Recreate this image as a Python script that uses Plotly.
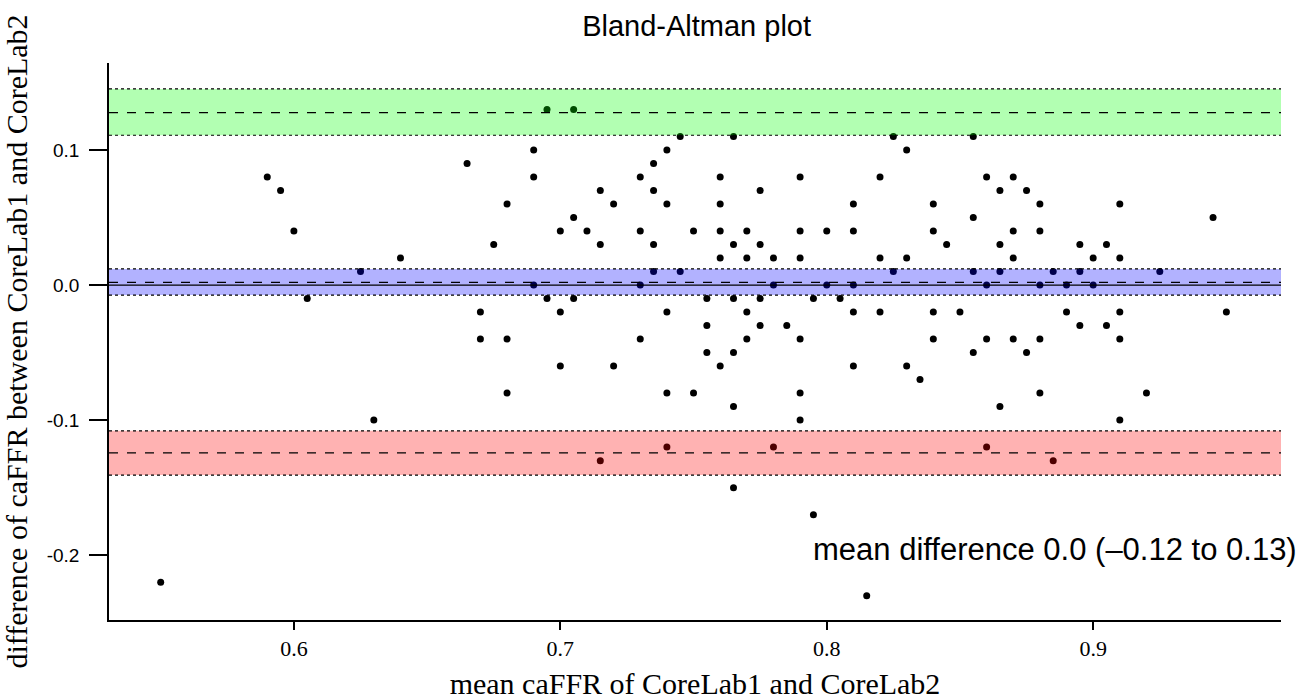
import plotly.graph_objects as go

# mean of the two core labs (x) and difference (y)
mean_caffr = [
    0.55, 0.59, 0.595, 0.6, 0.605, 0.625, 0.63, 0.64, 0.665, 0.67, 0.67, 0.675, 0.68, 0.68, 0.68,
    0.69, 0.69, 0.69, 0.695, 0.695, 0.7, 0.7, 0.7, 0.705, 0.705, 0.705, 0.71, 0.715, 0.715, 0.715, 0.72, 0.72,
    0.73, 0.73, 0.73, 0.73, 0.735, 0.735, 0.735, 0.735, 0.74, 0.74, 0.74, 0.74, 0.74, 0.745, 0.745, 0.75, 0.75,
    0.755, 0.755, 0.755,
    0.76, 0.76, 0.76, 0.76, 0.76, 0.765, 0.765, 0.765, 0.765, 0.765, 0.765, 0.77, 0.77, 0.77, 0.77,
    0.775, 0.775, 0.775, 0.775, 0.78, 0.78, 0.78, 0.785,
    0.79, 0.79, 0.79, 0.79, 0.79, 0.79, 0.795, 0.795, 0.8, 0.8, 0.805,
    0.81, 0.81, 0.81, 0.81, 0.81, 0.815, 0.82, 0.82, 0.82, 0.825, 0.825, 0.83, 0.83, 0.83, 0.835,
    0.84, 0.84, 0.84, 0.84, 0.845, 0.85, 0.855, 0.855, 0.855, 0.855, 0.86, 0.86, 0.86, 0.86,
    0.865, 0.865, 0.865, 0.865, 0.87, 0.87, 0.87, 0.87, 0.875, 0.875, 0.88, 0.88, 0.88, 0.88, 0.88,
    0.885, 0.885, 0.89, 0.89, 0.895, 0.895, 0.895, 0.9, 0.9, 0.905, 0.905,
    0.91, 0.91, 0.91, 0.91, 0.91, 0.92, 0.925, 0.945, 0.95,
]
diff_caffr = [
    -0.22, 0.08, 0.07, 0.04, -0.01, 0.01, -0.1, 0.02, 0.09, -0.02, -0.04, 0.03, 0.06, -0.04, -0.08,
    0.1, 0.08, 0.0, 0.13, -0.01, 0.04, -0.02, -0.06, 0.13, 0.05, -0.01, 0.04, 0.07, 0.03, -0.13, 0.06, -0.06,
    0.08, 0.04, 0.0, -0.04, 0.09, 0.07, 0.03, 0.01, 0.1, 0.06, -0.02, -0.08, -0.12, 0.11, 0.01, 0.04, -0.08,
    -0.01, -0.03, -0.05,
    0.08, 0.06, 0.04, 0.02, -0.06, 0.11, 0.03, -0.01, -0.05, -0.09, -0.15, 0.04, 0.02, -0.02, -0.04,
    0.07, 0.03, -0.01, -0.03, 0.02, 0.0, -0.12, -0.03,
    0.08, 0.04, 0.02, -0.04, -0.08, -0.1, -0.01, -0.17, 0.04, 0.0, -0.01,
    0.06, 0.04, 0.0, -0.02, -0.06, -0.23, 0.08, 0.02, -0.02, 0.11, 0.01, 0.1, 0.02, -0.06, -0.07,
    0.06, 0.04, -0.02, -0.04, 0.03, -0.02, 0.11, 0.05, 0.01, -0.05, 0.08, 0.0, -0.04, -0.12,
    0.07, 0.03, 0.01, -0.09, 0.08, 0.04, 0.02, -0.04, 0.07, -0.05, 0.06, 0.04, 0.0, -0.04, -0.08,
    0.01, -0.13, 0.0, -0.02, 0.03, 0.01, -0.03, 0.02, 0.0, 0.03, -0.03,
    0.06, 0.02, -0.02, -0.04, -0.1, -0.08, 0.01, 0.05, -0.02,
]

# Limits of agreement and their confidence bands: (lower CI, estimate, upper CI)
upper_loa = [0.1109, 0.1276, 0.1452]
mean_bias = [-0.0074, 0.0020, 0.0119]
lower_loa = [-0.1407, -0.1242, -0.1079]
band_colors = ["rgba(0,255,0,0.3)", "rgba(0,0,255,0.3)", "rgba(255,0,0,0.3)"]

x_range = [0.5306, 0.9705]
y_range = [-0.248, 0.1644]
x_ticks = [0.6, 0.7, 0.8, 0.9]
y_ticks = [0.1, 0.0, -0.1, -0.2]
y_ticklabels = ["0.1", "0.0", "-0.1", "-0.2"]

fig = go.Figure()
fig.add_trace(go.Scatter(
    x=mean_caffr, y=diff_caffr, mode="markers",
    marker=dict(color="black", size=7), showlegend=False, cliponaxis=False,
))

shapes = []
for band, col in zip([upper_loa, mean_bias, lower_loa], band_colors):
    lo, est, hi = band
    shapes.append(dict(type="rect", xref="paper", yref="y", x0=0, x1=1, y0=lo, y1=hi,
                       fillcolor=col, line=dict(width=0), layer="above"))
    for v in (lo, hi):
        shapes.append(dict(type="line", xref="paper", yref="y", x0=0, x1=1, y0=v, y1=v,
                           line=dict(color="black", width=1.2, dash="dot"), layer="above"))
    shapes.append(dict(type="line", xref="paper", yref="y", x0=0, x1=1, y0=est, y1=est,
                       line=dict(color="black", width=1.2, dash="dash"), layer="above"))
shapes.append(dict(type="line", xref="paper", yref="y", x0=0, x1=1, y0=0, y1=0,
                   line=dict(color="black", width=1.2), layer="above"))

fig.update_layout(
    width=1306, height=700,
    margin=dict(l=109, r=25, t=63, b=80),
    plot_bgcolor="white", paper_bgcolor="white",
    shapes=shapes,
    title=dict(text="Bland-Altman plot", x=0.5334, xanchor="center", y=0.963, yanchor="middle",
               font=dict(family="Liberation Sans, Arial", size=29, color="black")),
    xaxis=dict(range=x_range, tickvals=x_ticks, ticktext=[str(v) for v in x_ticks],
               showgrid=False, zeroline=False, showline=True, linecolor="black", linewidth=1.5,
               ticks="outside", ticklen=8, tickwidth=1.5, tickcolor="black", automargin=False,
               tickfont=dict(family="Liberation Serif, Times New Roman", size=22, color="black"),
               title=dict(text="mean caFFR of CoreLab1 and CoreLab2", standoff=22,
                          font=dict(family="Liberation Serif, Times New Roman", size=30, color="black"))),
    yaxis=dict(range=y_range, tickvals=y_ticks, ticktext=y_ticklabels,
               showgrid=False, zeroline=False, showline=True, linecolor="black", linewidth=1.5,
               ticks="outside", ticklen=18, tickwidth=1.5, tickcolor="black", automargin=False,
               ticklabelstandoff=6,
               tickfont=dict(family="Liberation Sans, Arial", size=19, color="black"),
               title=dict(text="difference of caFFR between CoreLab1 and CoreLab2", standoff=16,
                          font=dict(family="Liberation Serif, Times New Roman", size=30, color="black"))),
    annotations=[dict(text="mean difference 0.0 (\u20130.12 to 0.13)", xref="x", yref="y",
                      x=0.8855, y=-0.196, xanchor="center", yanchor="middle", showarrow=False,
                      font=dict(family="Liberation Sans, Arial", size=31, color="black"))],
)

fig.write_html("out.html", config={"displayModeBar": False},
               post_script="document.body.style.margin='0px';")
